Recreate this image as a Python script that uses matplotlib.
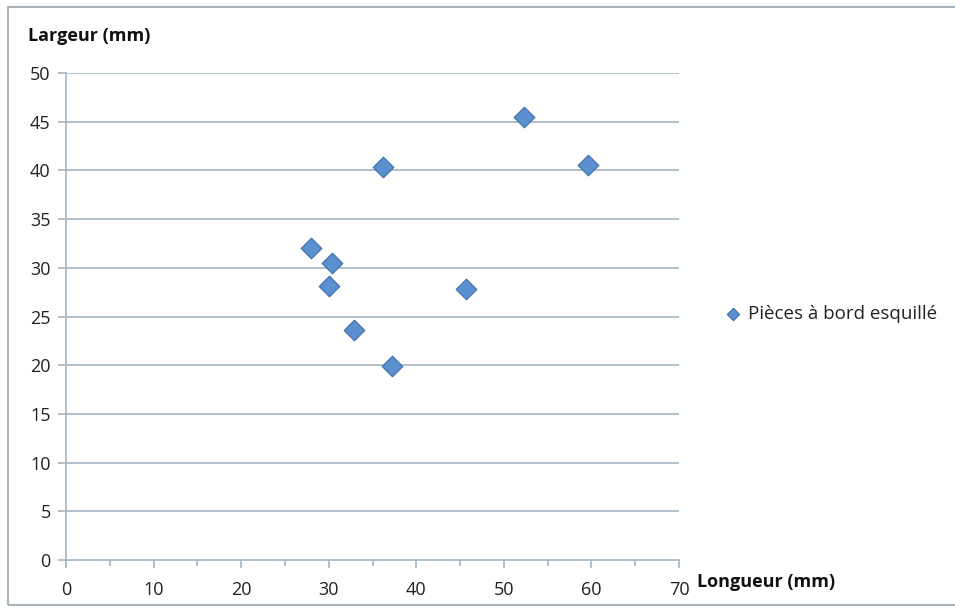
import matplotlib.pyplot as plt
from matplotlib.patches import Rectangle

# Data
longueur = [28.0, 30.4, 30.0, 32.9, 37.2, 45.7, 36.2, 52.3, 59.6]
largeur = [32.0, 30.5, 28.1, 23.6, 19.9, 27.8, 40.3, 45.5, 40.6]
series_name = "Pièces à bord esquillé"
x_ticks = [0, 10, 20, 30, 40, 50, 60, 70]
y_ticks = [0, 5, 10, 15, 20, 25, 30, 35, 40, 45, 50]

plt.rcParams['font.family'] = ['Open Sans', 'DejaVu Sans']

grid_col = '#A3B6C3'
fig = plt.figure(figsize=(9.55, 6.09), dpi=100)
ax = fig.add_axes([66 / 955, 1 - 560 / 609, 613 / 955, 487 / 609])

# outer chart frame
fig.patches.append(Rectangle((8 / 955, 4 / 609), 950 / 955, 598 / 609,
                             transform=fig.transFigure, fill=False,
                             edgecolor='#A9B3BA', linewidth=1.5))

ax.scatter(longueur, largeur, marker='D', s=10.5 ** 2, color='#5A8FD0',
           edgecolors='#3F6FA9', linewidths=0.8, zorder=3, label=series_name)

ax.set_xlim(0, 70)
ax.set_ylim(0, 50)
ax.set_xticks(x_ticks)
ax.set_xticks(range(5, 70, 10), minor=True)
ax.set_yticks(y_ticks)

for y in y_ticks[1:]:
    ax.axhline(y, color=grid_col, linewidth=1.2, zorder=1)

for s in ['top', 'right']:
    ax.spines[s].set_visible(False)
for s in ['left', 'bottom']:
    ax.spines[s].set_color(grid_col)
    ax.spines[s].set_linewidth(1.2)

ax.tick_params(axis='both', which='major', colors=grid_col, labelcolor='#222222',
               labelsize=13, length=6, width=1.2)
ax.tick_params(axis='x', which='minor', colors=grid_col, length=4, width=1.2)
ax.tick_params(axis='x', which='major', pad=9)
ax.tick_params(axis='y', which='major', pad=5)
ax.set_xticklabels([str(v) for v in x_ticks])
ax.set_yticklabels([str(v) for v in y_ticks])

fig.text(28 / 955, 1 - 36 / 609, "Largeur (mm)", fontsize=13, fontweight='bold',
         va='center', ha='left', color='#111111')
fig.text(697 / 955, 1 - 582 / 609, "Longueur (mm)", fontsize=13, fontweight='bold',
         va='center', ha='left', color='#111111')

leg = ax.legend(loc='center left', bbox_to_anchor=(1.058, 0.506), frameon=False,
                fontsize=13.5, handletextpad=-0.2, markerscale=0.6,
                borderaxespad=0, borderpad=0)
for t in leg.get_texts():
    t.set_color('#222222')

fig.savefig('out.png', dpi=100)
